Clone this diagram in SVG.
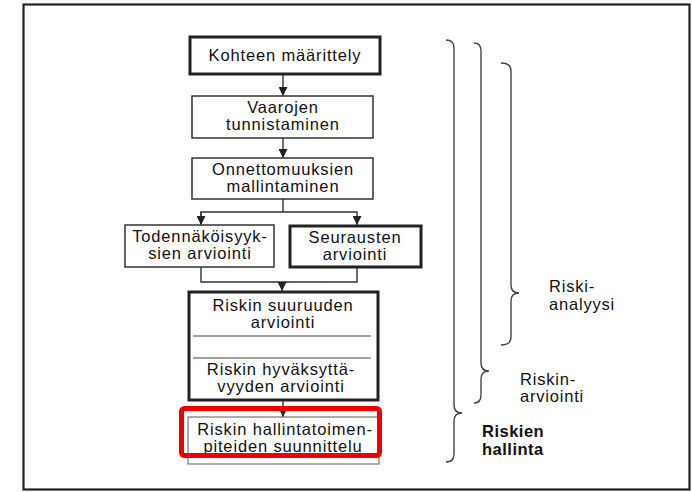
<svg xmlns="http://www.w3.org/2000/svg" width="692" height="492" viewBox="0 0 692 492">
<defs>
<marker id="ah" viewBox="0 0 10 10" refX="10" refY="5" markerWidth="9" markerHeight="9" markerUnits="userSpaceOnUse" orient="auto">
<path d="M0,0 L10,5 L0,10 Z" fill="#222"/>
</marker>
<style>
.t{font-family:"Liberation Sans",Arial,sans-serif;font-size:16.5px;letter-spacing:0.85px;fill:#111;text-anchor:middle}
.l{font-family:"Liberation Sans",Arial,sans-serif;font-size:16.5px;letter-spacing:0.8px;fill:#111}
.b{font-weight:bold;letter-spacing:0.5px}
.thin{fill:#fff;stroke:#333;stroke-width:1.5}
.thick{fill:#fff;stroke:#222;stroke-width:3}
.c{fill:none;stroke:#333;stroke-width:1.4}
.br{fill:none;stroke:#444;stroke-width:1.4}
</style>
</defs>
<rect x="0" y="0" width="692" height="492" fill="#fff"/>
<rect x="23.5" y="4.5" width="666" height="485" fill="none" stroke="#222" stroke-width="2.2"/>

<g id="connectors">
<line class="c" x1="283" y1="75" x2="283" y2="96" marker-end="url(#ah)"/>
<line class="c" x1="283" y1="138" x2="283" y2="158" marker-end="url(#ah)"/>
<polyline class="c" points="283,199 283,212"/>
<polyline class="c" points="201,224 201,212 357,212 357,225" marker-end="url(#ah)"/>
<line class="c" x1="201" y1="212" x2="201" y2="225" marker-end="url(#ah)"/>
<polyline class="c" points="201,267 201,282 357,282 357,267"/>
<line class="c" x1="282" y1="282" x2="282" y2="291" marker-end="url(#ah)"/>
<line class="c" x1="283" y1="336" x2="283" y2="357" marker-end="url(#ah)"/>
<line class="c" x1="283" y1="401" x2="283" y2="417" marker-end="url(#ah)"/>
</g>

<g id="n1">
<rect class="thick" x="190" y="37" width="190" height="37"/>
<text class="t" x="285" y="61">Kohteen määrittely</text>
</g>
<g id="n2">
<rect class="thin" x="192" y="96" width="181" height="42"/>
<text class="t" x="283" y="113">Vaarojen</text>
<text class="t" x="283" y="130">tunnistaminen</text>
</g>
<g id="n3">
<rect class="thin" x="192" y="158" width="181" height="41"/>
<text class="t" x="283" y="175">Onnettomuuksien</text>
<text class="t" x="283" y="192">mallintaminen</text>
</g>
<g id="n4">
<rect class="thin" x="125" y="225" width="149" height="42"/>
<text class="t" x="200" y="242">Todennäköisyyk-</text>
<text class="t" x="200" y="259">sien arviointi</text>
</g>
<g id="n5">
<rect class="thick" x="290" y="226" width="131" height="41"/>
<text class="t" x="355" y="243">Seurausten</text>
<text class="t" x="355" y="260">arviointi</text>
</g>
<g id="n6">
<rect class="thick" x="189" y="292" width="189" height="108"/>
<line x1="193" y1="336" x2="371" y2="336" stroke="#444" stroke-width="1.2"/>
<line x1="193" y1="358" x2="371" y2="358" stroke="#444" stroke-width="1.2"/>
<text class="t" x="283" y="311">Riskin suuruuden</text>
<text class="t" x="283" y="328">arviointi</text>
<text class="t" x="281" y="375">Riskin hyväksyttä-</text>
<text class="t" x="281" y="392">vyyden arviointi</text>
</g>
<g id="n7">
<rect x="188" y="417" width="191" height="47" fill="#fff" stroke="#777" stroke-width="1.2"/>
<text class="t" x="285" y="435">Riskin hallintatoimen-</text>
<text class="t" x="283" y="452">piteiden suunnittelu</text>
<rect x="181.5" y="408.5" width="198" height="47" rx="3" fill="none" stroke="#ee0000" stroke-width="5"/>
</g>

<g id="braces">
<path class="br" d="M446,40 Q454,40 454,48 L454,405 Q454,413 462,413 Q454,413 454,421 L454,454 Q454,462 446,462"/>
<path class="br" d="M474,43 Q481,43 481,51 L481,363 Q481,371 489,371 Q481,371 481,379 L481,395 Q481,403 474,403"/>
<path class="br" d="M501,63 Q511,63 511,71 L511,285 Q511,293 519,293 Q511,293 511,301 L511,337 Q511,345 501,345"/>
</g>

<g id="labels">
<text class="l" x="549" y="292">Riski-</text>
<text class="l" x="549" y="310">analyysi</text>
<text class="l" x="520" y="385">Riskin-</text>
<text class="l" x="520" y="402">arviointi</text>
<text class="l b" x="482" y="437">Riskien</text>
<text class="l b" x="482" y="455">hallinta</text>
</g>
</svg>
